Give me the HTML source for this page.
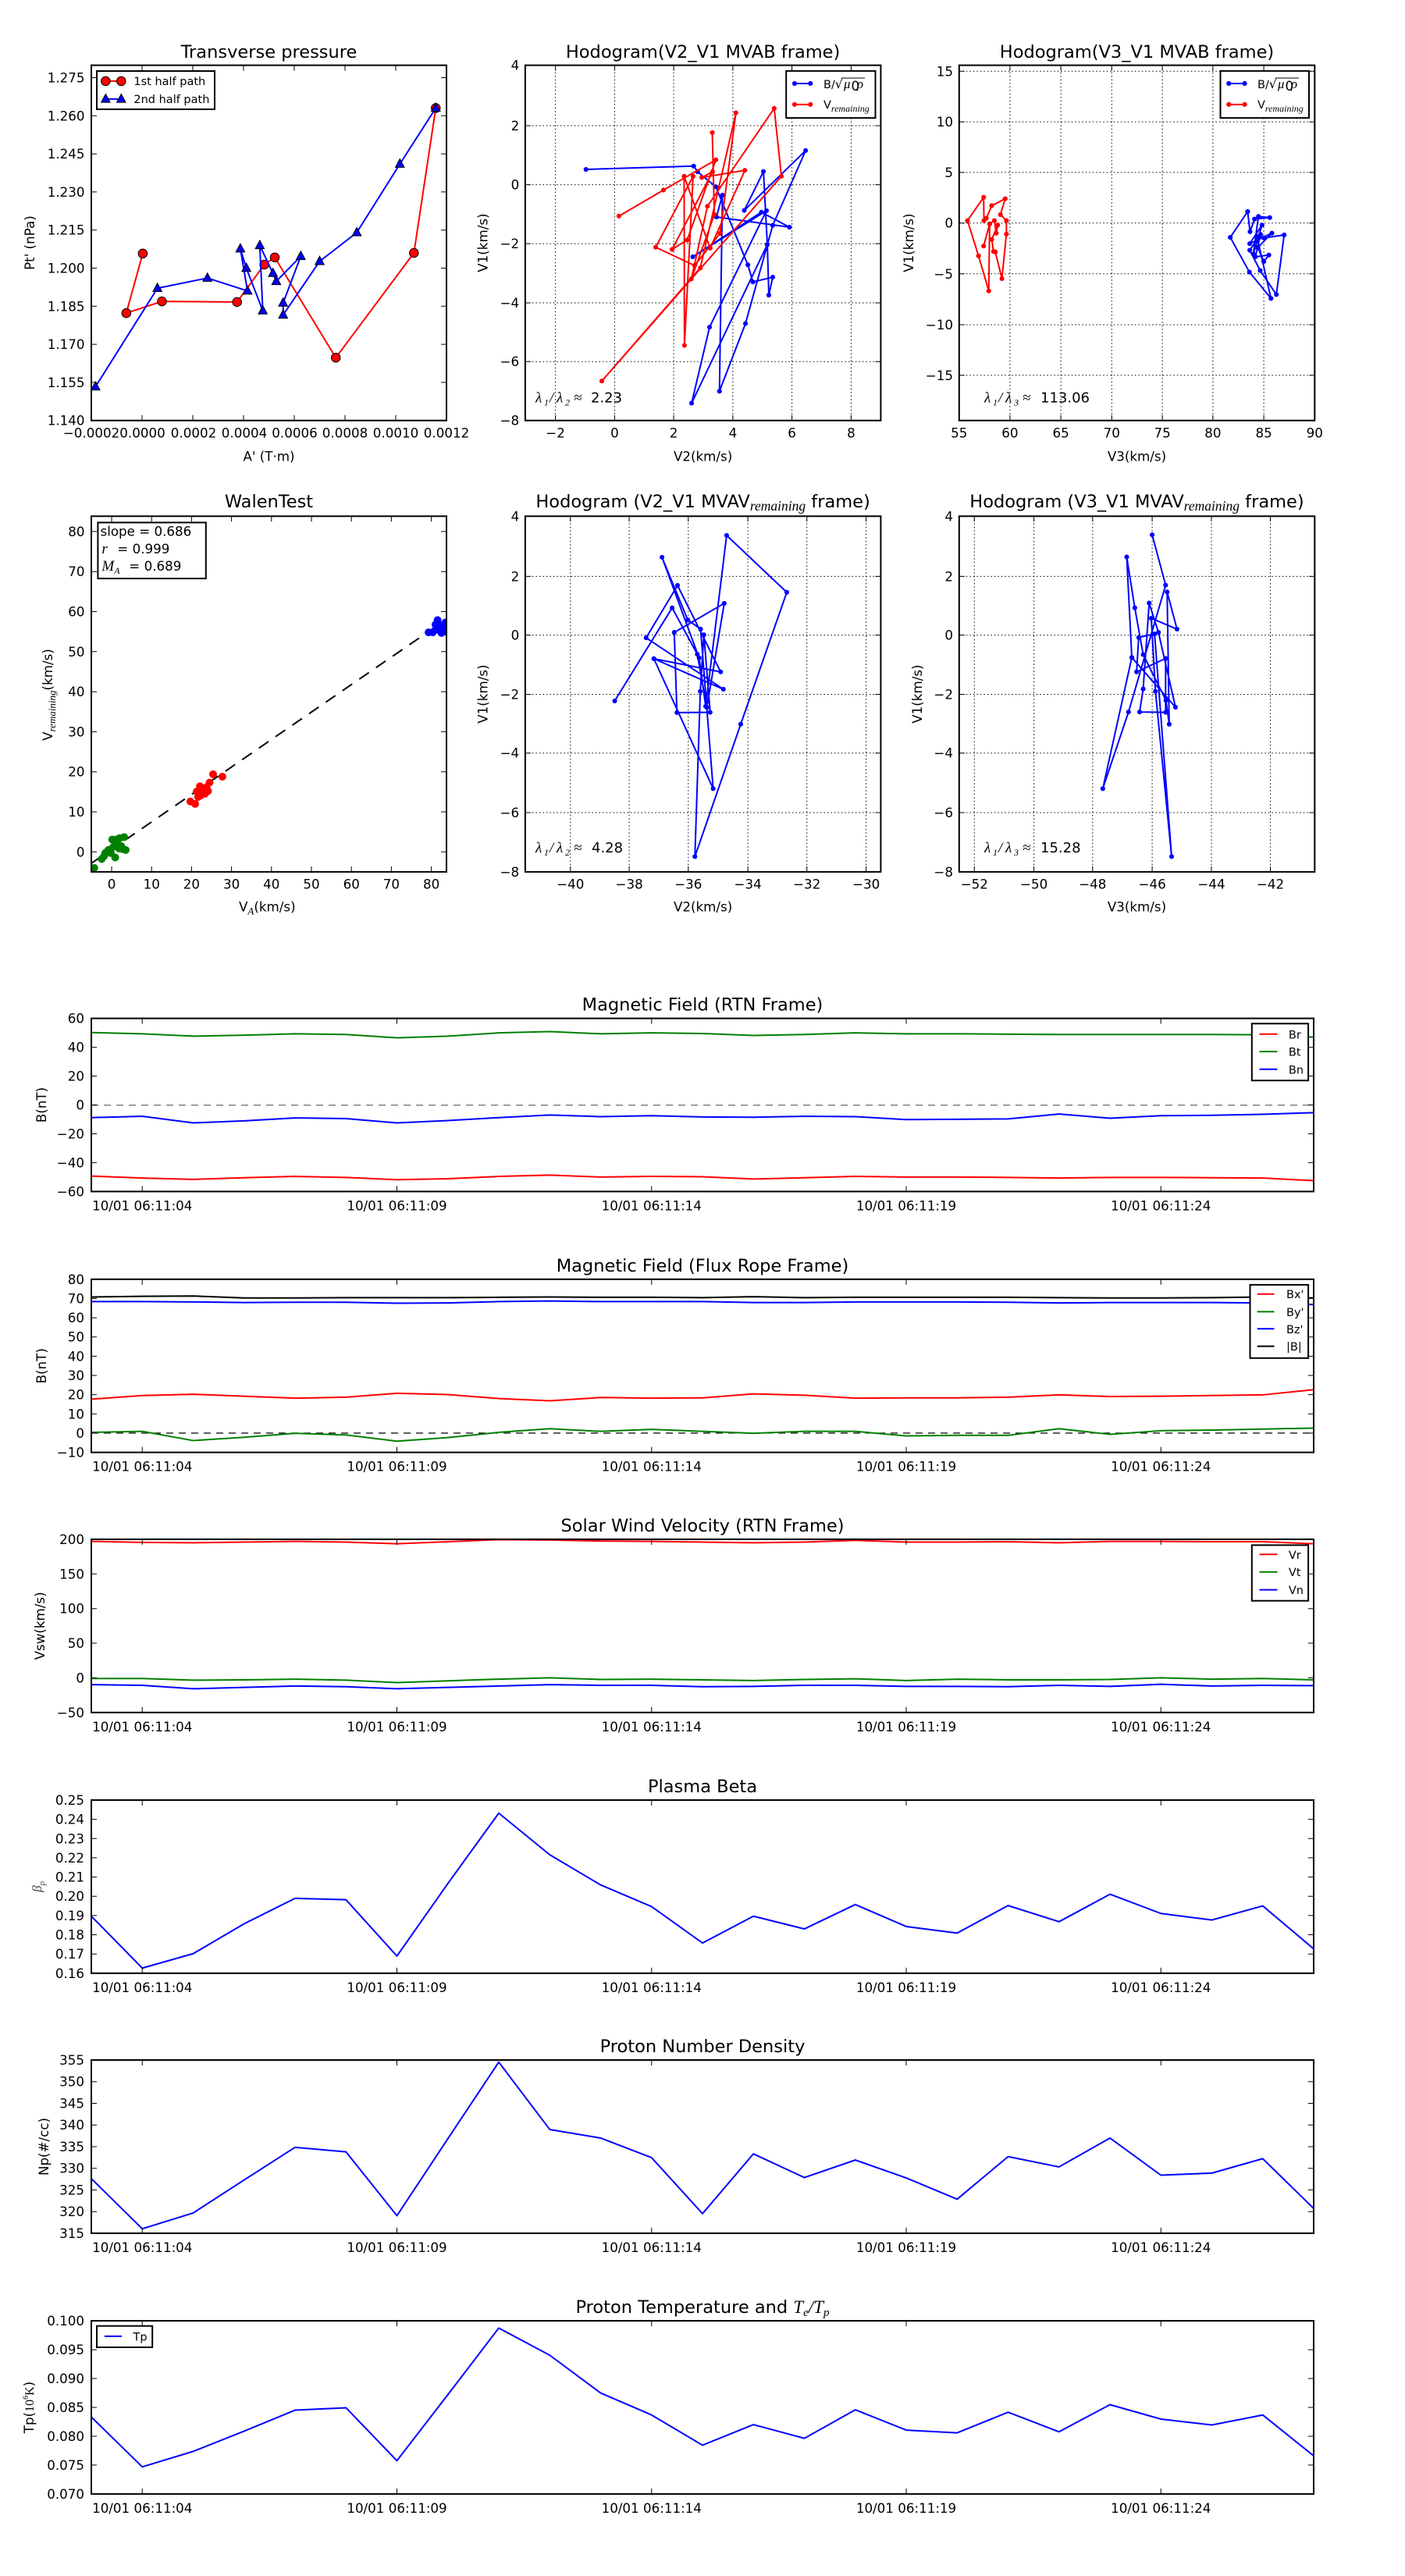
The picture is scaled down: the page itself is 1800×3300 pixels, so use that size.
<!DOCTYPE html>
<html><head><meta charset="utf-8">
<style>
html,body{margin:0;padding:0;background:#fff}
svg{display:block}
text{font-family:"DejaVu Sans","Liberation Sans",sans-serif;font-size:16.7px;fill:#000}
.ttl{font-size:22.5px;text-anchor:middle}
.yt{text-anchor:end}
.xt{text-anchor:middle}
.m{font-family:"Liberation Serif","DejaVu Serif",serif;font-style:italic}
.ax{fill:none;stroke:#000;stroke-width:2}
.tk{fill:none;stroke:#000;stroke-width:1}
.gr{fill:none;stroke:#000;stroke-width:1;stroke-dasharray:1.5 3}
.ln{fill:none;stroke-width:2;vector-effect:non-scaling-stroke;stroke-linejoin:round}
.lg{fill:#fff;stroke:#000;stroke-width:2}
.lt{font-size:14.5px}
</style></head><body>
<svg width="1800" height="3300" viewBox="0 0 1800 3300" xmlns="http://www.w3.org/2000/svg">
<rect width="1800" height="3300" fill="#fff"/>
<defs>
<marker id="dB" markerUnits="userSpaceOnUse" overflow="visible" refX="0" refY="0" markerWidth="1" markerHeight="1"><circle r="8" fill="#00f"/></marker>
<marker id="dR" markerUnits="userSpaceOnUse" overflow="visible" refX="0" refY="0" markerWidth="1" markerHeight="1"><circle r="8" fill="#f00"/></marker>
<marker id="sB" markerUnits="userSpaceOnUse" overflow="visible" refX="0" refY="0" markerWidth="1" markerHeight="1"><circle r="13" fill="#00f"/></marker>
<marker id="sR" markerUnits="userSpaceOnUse" overflow="visible" refX="0" refY="0" markerWidth="1" markerHeight="1"><circle r="13" fill="#f00"/></marker>
<marker id="sG" markerUnits="userSpaceOnUse" overflow="visible" refX="0" refY="0" markerWidth="1" markerHeight="1"><circle r="13" fill="#008000"/></marker>
<marker id="cR" markerUnits="userSpaceOnUse" overflow="visible" refX="0" refY="0" markerWidth="1" markerHeight="1"><circle r="15" fill="#f00" stroke="#000" stroke-width="2.6"/></marker>
<marker id="tB" markerUnits="userSpaceOnUse" overflow="visible" refX="0" refY="0" markerWidth="1" markerHeight="1"><path d="M0,-17L15,11L-15,11Z" fill="#00f" stroke="#000" stroke-width="2.6"/></marker>
<clipPath id="cw"><rect x="117" y="661.3" width="455" height="455.6"/></clipPath>
<clipPath id="c1"><rect x="117" y="1304.6" width="1566" height="221.8"/></clipPath>
<clipPath id="c2"><rect x="117" y="1638.8" width="1566" height="221.8"/></clipPath>
<clipPath id="c3"><rect x="117" y="1971.9" width="1566" height="221.9"/></clipPath>
<clipPath id="c4"><rect x="117" y="2306" width="1566" height="221.8"/></clipPath>
<clipPath id="c5"><rect x="117" y="2639" width="1566" height="221.9"/></clipPath>
<clipPath id="c6"><rect x="117" y="2973.1" width="1566" height="221.8"/></clipPath>
</defs>

<!-- ============ Panel A: Transverse pressure ============ -->
<text class="ttl" x="344.5" y="74">Transverse pressure</text>
<g transform="scale(0.38344)">
<polyline class="ln" stroke="#f00" points="477,847 422,1046 541,1007 792,1009 883,884 918,860 1122,1195 1383,845 1456,361" marker-start="url(#cR)" marker-mid="url(#cR)" marker-end="url(#cR)"/>
<polyline class="ln" stroke="#00f" points="319,1292 526,963 693,929 827,972 803,831 823,896 878,1038 868,820 912,913 923,940 1005,856 946,1012 946,1052 1068,873 1192,777 1336,548 1456,361" marker-start="url(#tB)" marker-mid="url(#tB)" marker-end="url(#tB)"/>
</g>
<rect class="ax" x="117" y="83.6" width="455" height="455.1"/>
<path class="tk" d="M182 538.7v-7M182 83.6v7M247 538.7v-7M247 83.6v7M312 538.7v-7M312 83.6v7M377 538.7v-7M377 83.6v7M442 538.7v-7M442 83.6v7M507 538.7v-7M507 83.6v7M117 489.9h7M572 489.9h-7M117 441.1h7M572 441.1h-7M117 392.3h7M572 392.3h-7M117 343.5h7M572 343.5h-7M117 294.7h7M572 294.7h-7M117 245.9h7M572 245.9h-7M117 197.1h7M572 197.1h-7M117 148.3h7M572 148.3h-7M117 99.5h7M572 99.5h-7"/>
<text class="yt" x="108.5" y="544.7">1.140</text>
<text class="yt" x="108.5" y="495.9">1.155</text>
<text class="yt" x="108.5" y="447.1">1.170</text>
<text class="yt" x="108.5" y="398.3">1.185</text>
<text class="yt" x="108.5" y="349.5">1.200</text>
<text class="yt" x="108.5" y="300.7">1.215</text>
<text class="yt" x="108.5" y="251.9">1.230</text>
<text class="yt" x="108.5" y="203.1">1.245</text>
<text class="yt" x="108.5" y="154.3">1.260</text>
<text class="yt" x="108.5" y="105.5">1.275</text>
<text class="xt" x="117" y="560.6">−0.0002</text>
<text class="xt" x="182.5" y="560.6">0.0000</text>
<text class="xt" x="248" y="560.6">0.0002</text>
<text class="xt" x="313" y="560.6">0.0004</text>
<text class="xt" x="377.5" y="560.6">0.0006</text>
<text class="xt" x="442" y="560.6">0.0008</text>
<text class="xt" x="507" y="560.6">0.0010</text>
<text class="xt" x="572" y="560.6">0.0012</text>
<text class="xt" x="344.5" y="590.5">A' (T·m)</text>
<text transform="translate(44,311.1) rotate(-90)" text-anchor="middle">Pt' (nPa)</text>
<rect class="lg" x="124" y="91" width="151" height="49"/>
<g transform="scale(0.38344)">
<polyline class="ln" stroke="#f00" points="353,271 405,271" marker-start="url(#cR)" marker-end="url(#cR)"/>
<polyline class="ln" stroke="#00f" points="353,331 405,331" marker-start="url(#tB)" marker-end="url(#tB)"/>
</g>
<text class="lt" x="171.4" y="109">1st half path</text>
<text class="lt" x="171.4" y="132">2nd half path</text>

<!-- ============ Panel B: Hodogram V2_V1 MVAB ============ -->
<text class="ttl" x="900.6" y="74">Hodogram(V2_V1 MVAB frame)</text>
<path class="gr" d="M711.6 83.6V538.7M787.4 83.6V538.7M863.1 83.6V538.7M938.9 83.6V538.7M1014.6 83.6V538.7M1090.4 83.6V538.7M672.9 161H1128.4M672.9 236.6H1128.4M672.9 312.1H1128.4M672.9 388H1128.4M672.9 463.2H1128.4"/>
<g transform="translate(600,0) scale(0.38344)">
<polyline class="ln" stroke="#00f" points="393,566 753,555 766,574 827,624 934,885 951,942 1017,926 1004,986 999,817 986,573 922,703 1127,503 1017,753 926,1081 839,1307 849,652 829,725 1073,759 979,709 750,858 996,704 806,1093 746,1347 999,817" marker-start="url(#dB)" marker-mid="url(#dB)" marker-end="url(#dB)"/>
<polyline class="ln" stroke="#f00" points="503,722 652,635 827,534 731,802 681,833 816,574 780,593 924,569 808,829 721,589 722,1154 751,589 626,826 756,887 841,780 894,377 775,895 446,1273 1046,589 1022,362 799,689 745,932 822,717 815,443" marker-start="url(#dR)" marker-mid="url(#dR)" marker-end="url(#dR)"/>
</g>
<rect class="ax" x="672.9" y="83.6" width="455.5" height="455.1"/>
<path class="tk" d="M711.6 538.7v-7M711.6 83.6v7M787.4 538.7v-7M787.4 83.6v7M863.1 538.7v-7M863.1 83.6v7M938.9 538.7v-7M938.9 83.6v7M1014.6 538.7v-7M1014.6 83.6v7M1090.4 538.7v-7M1090.4 83.6v7M672.9 161h7M1128.4 161h-7M672.9 236.6h7M1128.4 236.6h-7M672.9 312.1h7M1128.4 312.1h-7M672.9 388h7M1128.4 388h-7M672.9 463.2h7M1128.4 463.2h-7"/>
<text class="yt" x="665.2" y="89.6">4</text>
<text class="yt" x="665.2" y="167">2</text>
<text class="yt" x="665.2" y="242.6">0</text>
<text class="yt" x="665.2" y="318.1">−2</text>
<text class="yt" x="665.2" y="394">−4</text>
<text class="yt" x="665.2" y="469.2">−6</text>
<text class="yt" x="665.2" y="544.7">−8</text>
<text class="xt" x="711.6" y="560.6">−2</text>
<text class="xt" x="787.4" y="560.6">0</text>
<text class="xt" x="863.1" y="560.6">2</text>
<text class="xt" x="938.9" y="560.6">4</text>
<text class="xt" x="1014.6" y="560.6">6</text>
<text class="xt" x="1090.4" y="560.6">8</text>
<text class="xt" x="900.6" y="590.5">V2(km/s)</text>
<text transform="translate(624.5,311.1) rotate(-90)" text-anchor="middle">V1(km/s)</text>
<text y="515.7"><tspan class="m" x="686" font-size="19">λ</tspan><tspan class="m" x="697" dy="4" font-size="12" font-style="normal">1</tspan><tspan class="m" x="704" dy="-4" font-size="19">/</tspan><tspan class="m" x="713" font-size="19">λ</tspan><tspan class="m" x="724" dy="4" font-size="12" font-style="normal">2</tspan><tspan class="m" x="735" dy="-4" font-size="19" font-style="normal">≈</tspan><tspan x="757" font-size="18">2.23</tspan></text>
<rect class="lg" x="1007.2" y="90.9" width="114.3" height="60.2"/>
<g transform="translate(600,0) scale(0.38344)">
<polyline class="ln" stroke="#00f" points="1090,279 1143,279" marker-start="url(#dB)" marker-end="url(#dB)"/>
<polyline class="ln" stroke="#f00" points="1090,349 1143,349" marker-start="url(#dR)" marker-end="url(#dR)"/>
</g>
<text class="lt" x="1055" y="113">B/</text>
<text x="1069.5" y="113" font-family="Liberation Serif" font-size="17">√</text>
<line x1="1078" y1="100" x2="1108" y2="100" stroke="#000" stroke-width="0.9"/>
<text class="m" x="1081" y="113" font-size="15">μ</text>
<text x="1090.5" y="116" font-family="Liberation Serif" font-size="10">0</text>
<text class="m" x="1098" y="113" font-size="15">ρ</text>
<text class="lt" x="1055" y="139">V<tspan class="m" font-size="12" dy="4">remaining</tspan></text>

<!-- ============ Panel C: Hodogram V3_V1 MVAB ============ -->
<text class="ttl" x="1456.5" y="74">Hodogram(V3_V1 MVAB frame)</text>
<path class="gr" d="M1293.9 83.6V538.7M1359.1 83.6V538.7M1424.3 83.6V538.7M1489.1 83.6V538.7M1553.9 83.6V538.7M1619.1 83.6V538.7M1228.8 91.3H1684.3M1228.8 156.1H1684.3M1228.8 220.9H1684.3M1228.8 285.7H1684.3M1228.8 350.8H1684.3M1228.8 416H1684.3M1228.8 480.8H1684.3"/>
<g transform="translate(1200,0) scale(0.38344)">
<polyline class="ln" stroke="#f00" points="157,822 177,748 193,737 199,779 204,752 184,800 190,840 196,842 218,931 233,782 233,737 213,717 229,664 184,687 166,729 158,737 157,659 103,737 140,855 174,972 177,748" marker-start="url(#dR)" marker-mid="url(#dR)" marker-end="url(#dR)"/>
<polyline class="ln" stroke="#00f" points="1039,707 1047,774 1062,732 1113,727 1075,723 1058,849 1087,752 1046,814 1120,779 1073,827 1093,874 1110,852 1065,858 1082,783 1046,836 1081,904 1135,984 1161,785 1093,795 1070,790 1117,997 1045,909 981,793 1039,707" marker-start="url(#dB)" marker-mid="url(#dB)" marker-end="url(#dB)"/>
</g>
<rect class="ax" x="1228.8" y="83.6" width="455.5" height="455.1"/>
<path class="tk" d="M1293.9 538.7v-7M1293.9 83.6v7M1359.1 538.7v-7M1359.1 83.6v7M1424.3 538.7v-7M1424.3 83.6v7M1489.1 538.7v-7M1489.1 83.6v7M1553.9 538.7v-7M1553.9 83.6v7M1619.1 538.7v-7M1619.1 83.6v7M1228.8 91.3h7M1684.3 91.3h-7M1228.8 156.1h7M1684.3 156.1h-7M1228.8 220.9h7M1684.3 220.9h-7M1228.8 285.7h7M1684.3 285.7h-7M1228.8 350.8h7M1684.3 350.8h-7M1228.8 416h7M1684.3 416h-7M1228.8 480.8h7M1684.3 480.8h-7"/>
<text class="yt" x="1221" y="97.3">15</text>
<text class="yt" x="1221" y="162.1">10</text>
<text class="yt" x="1221" y="226.9">5</text>
<text class="yt" x="1221" y="291.7">0</text>
<text class="yt" x="1221" y="356.8">−5</text>
<text class="yt" x="1221" y="422">−10</text>
<text class="yt" x="1221" y="486.8">−15</text>
<text class="xt" x="1228.8" y="560.6">55</text>
<text class="xt" x="1293.9" y="560.6">60</text>
<text class="xt" x="1359.1" y="560.6">65</text>
<text class="xt" x="1424.3" y="560.6">70</text>
<text class="xt" x="1489.1" y="560.6">75</text>
<text class="xt" x="1553.9" y="560.6">80</text>
<text class="xt" x="1619.1" y="560.6">85</text>
<text class="xt" x="1684.3" y="560.6">90</text>
<text class="xt" x="1456.5" y="590.5">V3(km/s)</text>
<text transform="translate(1170,311.1) rotate(-90)" text-anchor="middle">V1(km/s)</text>
<text y="515.7"><tspan class="m" x="1261" font-size="19">λ</tspan><tspan class="m" x="1272" dy="4" font-size="12" font-style="normal">1</tspan><tspan class="m" x="1279" dy="-4" font-size="19">/</tspan><tspan class="m" x="1288" font-size="19">λ</tspan><tspan class="m" x="1299" dy="4" font-size="12" font-style="normal">3</tspan><tspan class="m" x="1310" dy="-4" font-size="19" font-style="normal">≈</tspan><tspan x="1333" font-size="18">113.06</tspan></text>
<rect class="lg" x="1563.5" y="90.9" width="113.5" height="60.2"/>
<g transform="translate(1200,0) scale(0.38344)">
<polyline class="ln" stroke="#00f" points="976,279 1029,279" marker-start="url(#dB)" marker-end="url(#dB)"/>
<polyline class="ln" stroke="#f00" points="976,349 1029,349" marker-start="url(#dR)" marker-end="url(#dR)"/>
</g>
<text class="lt" x="1611" y="113">B/</text>
<text x="1625.5" y="113" font-family="Liberation Serif" font-size="17">√</text>
<line x1="1634" y1="100" x2="1664" y2="100" stroke="#000" stroke-width="0.9"/>
<text class="m" x="1637" y="113" font-size="15">μ</text>
<text x="1646.5" y="116" font-family="Liberation Serif" font-size="10">0</text>
<text class="m" x="1654" y="113" font-size="15">ρ</text>
<text class="lt" x="1611" y="139">V<tspan class="m" font-size="12" dy="4">remaining</tspan></text>

<!-- ============ Panel D: WalenTest ============ -->
<text class="ttl" x="344.5" y="649.8">WalenTest</text>
<g clip-path="url(#cw)">
<line x1="117.4" y1="1105.7" x2="562.8" y2="799.6" stroke="#000" stroke-width="2" stroke-dasharray="15 11"/>
<g transform="translate(0,600) scale(0.38344)">
<polyline fill="none" stroke="none" points="315,1335 340,1305 352,1285 362,1275 375,1240 378,1265 385,1300 392,1252 400,1235 405,1262 410,1272 415,1232 420,1275 348,1295 370,1285 388,1240 398,1270" marker-start="url(#sG)" marker-mid="url(#sG)" marker-end="url(#sG)"/>
<polyline fill="none" stroke="none" points="636,1113 652,1121 657,1080 668,1062 672,1092 685,1087 690,1065 700,1050 712,1022 743,1030 662,1098 680,1075 695,1078 675,1070" marker-start="url(#sR)" marker-mid="url(#sR)" marker-end="url(#sR)"/>
<polyline fill="none" stroke="none" points="1432,548 1446,548 1455,522 1462,507 1470,525 1475,550 1482,530 1488,515 1490,545 1466,540 1458,533" marker-start="url(#sB)" marker-mid="url(#sB)" marker-end="url(#sB)"/>
</g>
</g>
<rect class="ax" x="117" y="661.3" width="455" height="455.6"/>
<path class="tk" d="M143 1116.9v-7M143 661.3v7M194.2 1116.9v-7M194.2 661.3v7M245.4 1116.9v-7M245.4 661.3v7M296.6 1116.9v-7M296.6 661.3v7M347.8 1116.9v-7M347.8 661.3v7M399 1116.9v-7M399 661.3v7M450.2 1116.9v-7M450.2 661.3v7M501.4 1116.9v-7M501.4 661.3v7M552.6 1116.9v-7M552.6 661.3v7M117 680.9h7M572 680.9h-7M117 732.2h7M572 732.2h-7M117 783.5h7M572 783.5h-7M117 834.8h7M572 834.8h-7M117 886.1h7M572 886.1h-7M117 937.4h7M572 937.4h-7M117 988.7h7M572 988.7h-7M117 1040h7M572 1040h-7M117 1091.3h7M572 1091.3h-7"/>
<text class="yt" x="108.5" y="686.9">80</text>
<text class="yt" x="108.5" y="738.2">70</text>
<text class="yt" x="108.5" y="789.5">60</text>
<text class="yt" x="108.5" y="840.8">50</text>
<text class="yt" x="108.5" y="892.1">40</text>
<text class="yt" x="108.5" y="943.4">30</text>
<text class="yt" x="108.5" y="994.7">20</text>
<text class="yt" x="108.5" y="1046">10</text>
<text class="yt" x="108.5" y="1097.3">0</text>
<text class="xt" x="143" y="1138.7">0</text>
<text class="xt" x="194.2" y="1138.7">10</text>
<text class="xt" x="245.4" y="1138.7">20</text>
<text class="xt" x="296.6" y="1138.7">30</text>
<text class="xt" x="347.8" y="1138.7">40</text>
<text class="xt" x="399" y="1138.7">50</text>
<text class="xt" x="450.2" y="1138.7">60</text>
<text class="xt" x="501.4" y="1138.7">70</text>
<text class="xt" x="552.6" y="1138.7">80</text>
<text x="306" y="1167.5">V<tspan class="m" font-size="13" dy="4">A</tspan><tspan dy="-4">(km/s)</tspan></text>
<text transform="translate(67,890) rotate(-90)" text-anchor="middle">V<tspan class="m" font-size="13" dy="4">remaining</tspan><tspan dy="-4">(km/s)</tspan></text>
<rect class="lg" x="125.4" y="669.4" width="138.4" height="71.7"/>
<text x="128.5" y="686.7" font-size="18.6">slope = 0.686</text>
<text x="130.4" y="708.9" font-size="18.6"><tspan class="m" font-size="19">r</tspan><tspan x="145"> = 0.999</tspan></text>
<text x="130.4" y="731.1" font-size="18.6"><tspan class="m" font-size="19">M</tspan><tspan class="m" font-size="12" dy="4">A</tspan><tspan x="160" dy="-4"> = 0.689</tspan></text>

<!-- ============ Panel E: Hodogram V2_V1 MVAV ============ -->
<text class="ttl" x="900.6" y="649.8">Hodogram (V2_V1 MVAV<tspan class="m" font-size="17.5" dy="4">remaining</tspan><tspan dy="-4"> frame)</tspan></text>
<path class="gr" d="M730.8 661.3V1116.9M806.1 661.3V1116.9M881.8 661.3V1116.9M958.1 661.3V1116.9M1033.7 661.3V1116.9M1109.6 661.3V1116.9M672.9 738.4H1128.4M672.9 813.6H1128.4M672.9 889.5H1128.4M672.9 964.7H1128.4M672.9 1041H1128.4"/>
<g transform="translate(600,600) scale(0.38344)">
<polyline class="ln" stroke="#00f" points="489,777 681,466 765,621 797,799 855,451 688,548 697,816 808,815 787,556 775,745 757,1297 910,855 1064,414 863,224 793,795 771,633 647,297 733,506 776,537 818,1070 620,636 852,738 594,566 699,391 843,680 620,636" marker-start="url(#dB)" marker-mid="url(#dB)" marker-end="url(#dB)"/>
</g>
<rect class="ax" x="672.9" y="661.3" width="455.5" height="455.6"/>
<path class="tk" d="M730.8 1116.9v-7M730.8 661.3v7M806.1 1116.9v-7M806.1 661.3v7M881.8 1116.9v-7M881.8 661.3v7M958.1 1116.9v-7M958.1 661.3v7M1033.7 1116.9v-7M1033.7 661.3v7M1109.6 1116.9v-7M1109.6 661.3v7M672.9 738.4h7M1128.4 738.4h-7M672.9 813.6h7M1128.4 813.6h-7M672.9 889.5h7M1128.4 889.5h-7M672.9 964.7h7M1128.4 964.7h-7M672.9 1041h7M1128.4 1041h-7"/>
<text class="yt" x="665.2" y="667.3">4</text>
<text class="yt" x="665.2" y="744.4">2</text>
<text class="yt" x="665.2" y="819.6">0</text>
<text class="yt" x="665.2" y="895.5">−2</text>
<text class="yt" x="665.2" y="970.7">−4</text>
<text class="yt" x="665.2" y="1047">−6</text>
<text class="yt" x="665.2" y="1122.9">−8</text>
<text class="xt" x="730.8" y="1138.7">−40</text>
<text class="xt" x="806.1" y="1138.7">−38</text>
<text class="xt" x="881.8" y="1138.7">−36</text>
<text class="xt" x="958.1" y="1138.7">−34</text>
<text class="xt" x="1033.7" y="1138.7">−32</text>
<text class="xt" x="1109.6" y="1138.7">−30</text>
<text class="xt" x="900.6" y="1167.5">V2(km/s)</text>
<text transform="translate(624.5,889.1) rotate(-90)" text-anchor="middle">V1(km/s)</text>
<text y="1092"><tspan class="m" x="686" font-size="19">λ</tspan><tspan class="m" x="697" dy="4" font-size="12" font-style="normal">1</tspan><tspan class="m" x="704" dy="-4" font-size="19">/</tspan><tspan class="m" x="713" font-size="19">λ</tspan><tspan class="m" x="724" dy="4" font-size="12" font-style="normal">2</tspan><tspan class="m" x="735" dy="-4" font-size="19" font-style="normal">≈</tspan><tspan x="758" font-size="18">4.28</tspan></text>

<!-- ============ Panel F: Hodogram V3_V1 MVAV ============ -->
<text class="ttl" x="1456.5" y="649.8">Hodogram (V3_V1 MVAV<tspan class="m" font-size="17.5" dy="4">remaining</tspan><tspan dy="-4"> frame)</tspan></text>
<path class="gr" d="M1248.3 661.3V1116.9M1324.6 661.3V1116.9M1399.8 661.3V1116.9M1476.1 661.3V1116.9M1552 661.3V1116.9M1627.5 661.3V1116.9M1228.8 738.4H1684.3M1228.8 813.6H1684.3M1228.8 889.5H1684.3M1228.8 964.7H1684.3M1228.8 1041H1684.3"/>
<g transform="translate(1200,600) scale(0.38344)">
<polyline class="ln" stroke="#00f" points="720,222 765,390 641,814 555,1070 652,632 798,798 741,548 710,450 690,737 678,814 765,815 765,635 668,680 675,565 728,553 785,1297 731,745 717,501 803,537 770,413 777,855 766,775 690,622 662,466 635,296 652,632" marker-start="url(#dB)" marker-mid="url(#dB)" marker-end="url(#dB)"/>
</g>
<rect class="ax" x="1228.8" y="661.3" width="455.5" height="455.6"/>
<path class="tk" d="M1248.3 1116.9v-7M1248.3 661.3v7M1324.6 1116.9v-7M1324.6 661.3v7M1399.8 1116.9v-7M1399.8 661.3v7M1476.1 1116.9v-7M1476.1 661.3v7M1552 1116.9v-7M1552 661.3v7M1627.5 1116.9v-7M1627.5 661.3v7M1228.8 738.4h7M1684.3 738.4h-7M1228.8 813.6h7M1684.3 813.6h-7M1228.8 889.5h7M1684.3 889.5h-7M1228.8 964.7h7M1684.3 964.7h-7M1228.8 1041h7M1684.3 1041h-7"/>
<text class="yt" x="1221" y="667.3">4</text>
<text class="yt" x="1221" y="744.4">2</text>
<text class="yt" x="1221" y="819.6">0</text>
<text class="yt" x="1221" y="895.5">−2</text>
<text class="yt" x="1221" y="970.7">−4</text>
<text class="yt" x="1221" y="1047">−6</text>
<text class="yt" x="1221" y="1122.9">−8</text>
<text class="xt" x="1248.3" y="1138.7">−52</text>
<text class="xt" x="1324.6" y="1138.7">−50</text>
<text class="xt" x="1399.8" y="1138.7">−48</text>
<text class="xt" x="1476.1" y="1138.7">−46</text>
<text class="xt" x="1552" y="1138.7">−44</text>
<text class="xt" x="1627.5" y="1138.7">−42</text>
<text class="xt" x="1456.5" y="1167.5">V3(km/s)</text>
<text transform="translate(1181,889.1) rotate(-90)" text-anchor="middle">V1(km/s)</text>
<text y="1092"><tspan class="m" x="1261" font-size="19">λ</tspan><tspan class="m" x="1272" dy="4" font-size="12" font-style="normal">1</tspan><tspan class="m" x="1279" dy="-4" font-size="19">/</tspan><tspan class="m" x="1288" font-size="19">λ</tspan><tspan class="m" x="1299" dy="4" font-size="12" font-style="normal">3</tspan><tspan class="m" x="1310" dy="-4" font-size="19" font-style="normal">≈</tspan><tspan x="1333" font-size="18">15.28</tspan></text>

<!-- ============ Time series shared x ticks ============ -->
<defs>
<path id="xtk" d="M182.25 0v7M182.25 221.8v-7M508.5 0v7M508.5 221.8v-7M834.75 0v7M834.75 221.8v-7M1161 0v7M1161 221.8v-7M1487.25 0v7M1487.25 221.8v-7" fill="none" stroke="#000" stroke-width="1"/>
</defs>

<!-- ============ TS1: Magnetic Field RTN ============ -->
<text class="ttl" x="900" y="1294.6">Magnetic Field (RTN Frame)</text>
<line x1="117" y1="1415.8" x2="1683" y2="1415.8" stroke="#555" stroke-width="1.2" stroke-dasharray="9 7"/>
<g clip-path="url(#c1)"><g transform="translate(117,1260) scale(65.25,0.420875)">
<polyline class="ln" stroke="#f00" points="0,586 1,592 2,596 3,591 4,587 5,590 6,597 7,594 8,587 9,583 10,589 11,587 12,588 13,595 14,591 15,587 16,589 17,589 18,590 19,592 20,590 21,590 22,591 23,592 24,600"/>
<polyline class="ln" stroke="#008000" points="0,149 1,153 2,160 3,157 4,153 5,155 6,165 7,160 8,150 9,146 10,153 11,150 12,152 13,158 14,155 15,150 16,153 17,153 18,154 19,155 20,155 21,155 22,155 23,156 24,163"/>
<polyline class="ln" stroke="#00f" points="0,408 1,404 2,424 3,418 4,409 5,411 6,424 7,417 8,408 9,400 10,405 11,402 12,406 13,407 14,404 15,405 16,414 17,413 18,412 19,397 20,410 21,402 22,401 23,398 24,393"/>
</g></g>
<rect class="ax" x="117" y="1304.6" width="1566" height="221.8"/>
<use href="#xtk" y="1304.6"/>
<path class="tk" d="M117 1341.6h7M1683 1341.6h-7M117 1378.5h7M1683 1378.5h-7M117 1415.5h7M1683 1415.5h-7M117 1452.5h7M1683 1452.5h-7M117 1489.4h7M1683 1489.4h-7"/>
<text class="yt" x="108" y="1310.6">60</text>
<text class="yt" x="108" y="1347.6">40</text>
<text class="yt" x="108" y="1384.5">20</text>
<text class="yt" x="108" y="1421.5">0</text>
<text class="yt" x="108" y="1458.5">−20</text>
<text class="yt" x="108" y="1495.4">−40</text>
<text class="yt" x="108" y="1532.4">−60</text>
<text class="xt" x="182.25" y="1550.4">10/01 06:11:04</text>
<text class="xt" x="508.5" y="1550.4">10/01 06:11:09</text>
<text class="xt" x="834.75" y="1550.4">10/01 06:11:14</text>
<text class="xt" x="1161" y="1550.4">10/01 06:11:19</text>
<text class="xt" x="1487.25" y="1550.4">10/01 06:11:24</text>
<text transform="translate(59,1415.5) rotate(-90)" text-anchor="middle">B(nT)</text>
<rect class="lg" x="1603.8" y="1311.3" width="72.3" height="72.9"/>
<path d="M1613.5 1324.8H1636.5" stroke="#f00" stroke-width="2"/>
<path d="M1613.5 1347.1H1636.5" stroke="#008000" stroke-width="2"/>
<path d="M1613.5 1369.8H1636.5" stroke="#00f" stroke-width="2"/>
<text class="lt" x="1650.9" y="1330.3">Br</text>
<text class="lt" x="1650.9" y="1352.6">Bt</text>
<text class="lt" x="1650.9" y="1375.3">Bn</text>

<!-- ============ TS2: Magnetic Field Flux Rope ============ -->
<text class="ttl" x="900" y="1628.8">Magnetic Field (Flux Rope Frame)</text>
<line x1="117" y1="1835.9" x2="1683" y2="1835.9" stroke="#000" stroke-width="1.2" stroke-dasharray="9 7"/>
<g clip-path="url(#c2)"><g transform="translate(117,1260) scale(65.25,0.420875)">
<polyline class="ln" stroke="#f00" points="0,1265 1,1254 2,1250 3,1256 4,1262 5,1259 6,1247 7,1251 8,1263 9,1270 10,1260 11,1262 12,1261 13,1249 14,1253 15,1262 16,1261 17,1261 18,1259 19,1252 20,1257 21,1256 22,1254 23,1252 24,1236"/>
<polyline class="ln" stroke="#008000" points="0,1366 1,1363 2,1391 3,1381 4,1369 5,1374 6,1393 7,1382 8,1366 9,1355 10,1363 11,1357 12,1363 13,1369 14,1363 15,1363 16,1377 17,1375 18,1375 19,1355 20,1372 21,1361 22,1359 23,1356 24,1353"/>
<polyline class="ln" stroke="#00f" points="0,968 1,968 2,969 3,971 4,970 5,970 6,973 7,972 8,968 9,966 10,968 11,968 12,968 13,971 14,971 15,969 16,969 17,969 18,970 19,972 20,971 21,971 22,971 23,972 24,977"/>
<polyline class="ln" stroke="#000" points="0,954 1,952 2,951 3,957 4,957 5,956 6,956 7,956 8,955 9,954 10,955 11,955 12,956 13,953 14,956 15,955 16,955 17,955 18,955 19,956 20,957 21,957 22,956 23,954 24,957"/>
</g></g>
<rect class="ax" x="117" y="1638.8" width="1566" height="221.8"/>
<use href="#xtk" y="1638.8"/>
<path class="tk" d="M117 1663.4h7M1683 1663.4h-7M117 1688.1h7M1683 1688.1h-7M117 1712.7h7M1683 1712.7h-7M117 1737.4h7M1683 1737.4h-7M117 1762h7M1683 1762h-7M117 1786.6h7M1683 1786.6h-7M117 1811.3h7M1683 1811.3h-7M117 1835.9h7M1683 1835.9h-7"/>
<text class="yt" x="108" y="1644.8">80</text>
<text class="yt" x="108" y="1669.4">70</text>
<text class="yt" x="108" y="1694.1">60</text>
<text class="yt" x="108" y="1718.7">50</text>
<text class="yt" x="108" y="1743.4">40</text>
<text class="yt" x="108" y="1768">30</text>
<text class="yt" x="108" y="1792.6">20</text>
<text class="yt" x="108" y="1817.3">10</text>
<text class="yt" x="108" y="1841.9">0</text>
<text class="yt" x="108" y="1866.6">−10</text>
<text class="xt" x="182.25" y="1884.6">10/01 06:11:04</text>
<text class="xt" x="508.5" y="1884.6">10/01 06:11:09</text>
<text class="xt" x="834.75" y="1884.6">10/01 06:11:14</text>
<text class="xt" x="1161" y="1884.6">10/01 06:11:19</text>
<text class="xt" x="1487.25" y="1884.6">10/01 06:11:24</text>
<text transform="translate(59,1749.7) rotate(-90)" text-anchor="middle">B(nT)</text>
<rect class="lg" x="1601.5" y="1645.9" width="74.6" height="93.9"/>
<path d="M1610.7 1657.7H1632.5" stroke="#f00" stroke-width="2"/>
<path d="M1610.7 1680.4H1632.5" stroke="#008000" stroke-width="2"/>
<path d="M1610.7 1702.3H1632.5" stroke="#00f" stroke-width="2"/>
<path d="M1610.7 1724.6H1632.5" stroke="#000" stroke-width="2"/>
<text class="lt" x="1648" y="1663.2">Bx'</text>
<text class="lt" x="1648" y="1685.9">By'</text>
<text class="lt" x="1648" y="1707.8">Bz'</text>
<text class="lt" x="1648" y="1730.1">|B|</text>

<!-- ============ TS3: Solar Wind Velocity ============ -->
<text class="ttl" x="900" y="1961.9">Solar Wind Velocity (RTN Frame)</text>
<g clip-path="url(#c3)"><g transform="translate(117,1920) scale(65.25,0.440141)">
<polyline class="ln" stroke="#f00" points="0,124 1,127 2,128 3,126 4,124 5,126 6,131 7,125 8,119 9,120 10,123 11,124 12,126 13,128 14,126 15,121 16,126 17,126 18,125 19,128 20,124 21,124 22,125 23,125 24,131"/>
<polyline class="ln" stroke="#008000" points="0,523 1,523 2,528 3,527 4,525 5,528 6,535 7,530 8,525 9,521 10,526 11,525 12,527 13,529 14,526 15,524 16,529 17,525 18,527 19,527 20,526 21,521 22,525 23,523 24,527"/>
<polyline class="ln" stroke="#00f" points="0,541 1,543 2,553 3,549 4,545 5,547 6,553 7,549 8,545 9,541 10,543 11,543 12,547 13,546 14,543 15,543 16,546 17,546 18,547 19,543 20,546 21,540 22,545 23,543 24,544"/>
</g></g>
<rect class="ax" x="117" y="1971.9" width="1566" height="221.9"/>
<use href="#xtk" y="1971.9"/>
<path class="tk" d="M117 2016.3h7M1683 2016.3h-7M117 2060.7h7M1683 2060.7h-7M117 2105h7M1683 2105h-7M117 2149.4h7M1683 2149.4h-7"/>
<text class="yt" x="108" y="1977.9">200</text>
<text class="yt" x="108" y="2022.3">150</text>
<text class="yt" x="108" y="2066.7">100</text>
<text class="yt" x="108" y="2111">50</text>
<text class="yt" x="108" y="2155.4">0</text>
<text class="yt" x="108" y="2199.8">−50</text>
<text class="xt" x="182.25" y="2217.8">10/01 06:11:04</text>
<text class="xt" x="508.5" y="2217.8">10/01 06:11:09</text>
<text class="xt" x="834.75" y="2217.8">10/01 06:11:14</text>
<text class="xt" x="1161" y="2217.8">10/01 06:11:19</text>
<text class="xt" x="1487.25" y="2217.8">10/01 06:11:24</text>
<text transform="translate(57,2082.9) rotate(-90)" text-anchor="middle">Vsw(km/s)</text>
<rect class="lg" x="1603.8" y="1979.4" width="72.3" height="71.3"/>
<path d="M1613.5 1991.3H1636.5" stroke="#f00" stroke-width="2"/>
<path d="M1613.5 2013.7H1636.5" stroke="#008000" stroke-width="2"/>
<path d="M1613.5 2036.6H1636.5" stroke="#00f" stroke-width="2"/>
<text class="lt" x="1650.9" y="1996.8">Vr</text>
<text class="lt" x="1650.9" y="2019.2">Vt</text>
<text class="lt" x="1650.9" y="2042.1">Vn</text>

<!-- ============ TS4: Plasma Beta ============ -->
<text class="ttl" x="900" y="2296">Plasma Beta</text>
<g clip-path="url(#c4)"><g transform="translate(117,1920) scale(65.25,0.440141)">
<polyline class="ln" stroke="#00f" points="0,1215 1,1366 2,1324 3,1237 4,1163 5,1167 6,1331 7,1120 8,915 9,1036 10,1124 11,1187 12,1293 13,1215 14,1252 15,1181 16,1245 17,1264 18,1184 19,1231 20,1151 21,1207 22,1226 23,1185 24,1310"/>
</g></g>
<rect class="ax" x="117" y="2306" width="1566" height="221.8"/>
<use href="#xtk" y="2306"/>
<path class="tk" d="M117 2330.6h7M1683 2330.6h-7M117 2355.3h7M1683 2355.3h-7M117 2379.9h7M1683 2379.9h-7M117 2404.6h7M1683 2404.6h-7M117 2429.2h7M1683 2429.2h-7M117 2453.9h7M1683 2453.9h-7M117 2478.5h7M1683 2478.5h-7M117 2503.2h7M1683 2503.2h-7"/>
<text class="yt" x="108" y="2312">0.25</text>
<text class="yt" x="108" y="2336.6">0.24</text>
<text class="yt" x="108" y="2361.3">0.23</text>
<text class="yt" x="108" y="2385.9">0.22</text>
<text class="yt" x="108" y="2410.6">0.21</text>
<text class="yt" x="108" y="2435.2">0.20</text>
<text class="yt" x="108" y="2459.9">0.19</text>
<text class="yt" x="108" y="2484.5">0.18</text>
<text class="yt" x="108" y="2509.2">0.17</text>
<text class="yt" x="108" y="2533.8">0.16</text>
<text class="xt" x="182.25" y="2551.8">10/01 06:11:04</text>
<text class="xt" x="508.5" y="2551.8">10/01 06:11:09</text>
<text class="xt" x="834.75" y="2551.8">10/01 06:11:14</text>
<text class="xt" x="1161" y="2551.8">10/01 06:11:19</text>
<text class="xt" x="1487.25" y="2551.8">10/01 06:11:24</text>
<text transform="translate(53,2416.9) rotate(-90)" text-anchor="middle" style="fill:#444"><tspan class="m" font-size="17" style="fill:#444">β</tspan><tspan class="m" font-size="11" dy="4" style="fill:#444">p</tspan></text>

<!-- ============ TS5: Proton Number Density ============ -->
<text class="ttl" x="900" y="2629">Proton Number Density</text>
<g clip-path="url(#c5)"><g transform="translate(117,2610) scale(65.25,0.440141)">
<polyline class="ln" stroke="#00f" points="0,411 1,557 2,511 3,415 4,320 5,333 6,519 7,295 8,72 9,268 10,293 11,350 12,513 13,339 14,408 15,357 16,409 17,471 18,347 19,377 20,293 21,401 22,395 23,353 24,498"/>
</g></g>
<rect class="ax" x="117" y="2639" width="1566" height="221.9"/>
<use href="#xtk" y="2639"/>
<path class="tk" d="M117 2666.7h7M1683 2666.7h-7M117 2694.5h7M1683 2694.5h-7M117 2722.2h7M1683 2722.2h-7M117 2750h7M1683 2750h-7M117 2777.7h7M1683 2777.7h-7M117 2805.4h7M1683 2805.4h-7M117 2833.2h7M1683 2833.2h-7"/>
<text class="yt" x="108" y="2645">355</text>
<text class="yt" x="108" y="2672.7">350</text>
<text class="yt" x="108" y="2700.5">345</text>
<text class="yt" x="108" y="2728.2">340</text>
<text class="yt" x="108" y="2756">335</text>
<text class="yt" x="108" y="2783.7">330</text>
<text class="yt" x="108" y="2811.4">325</text>
<text class="yt" x="108" y="2839.2">320</text>
<text class="yt" x="108" y="2866.9">315</text>
<text class="xt" x="182.25" y="2884.9">10/01 06:11:04</text>
<text class="xt" x="508.5" y="2884.9">10/01 06:11:09</text>
<text class="xt" x="834.75" y="2884.9">10/01 06:11:14</text>
<text class="xt" x="1161" y="2884.9">10/01 06:11:19</text>
<text class="xt" x="1487.25" y="2884.9">10/01 06:11:24</text>
<text transform="translate(62,2750) rotate(-90)" text-anchor="middle">Np(#/cc)</text>

<!-- ============ TS6: Proton Temperature ============ -->
<text class="ttl" x="900" y="2963">Proton Temperature and <tspan class="m" font-size="23">T</tspan><tspan class="m" font-size="15" dy="4">e</tspan><tspan class="m" font-size="23" dy="-4">/T</tspan><tspan class="m" font-size="15" dy="4">p</tspan></text>
<g clip-path="url(#c6)"><g transform="translate(117,2610) scale(65.25,0.440141)">
<polyline class="ln" stroke="#00f" points="0,1105 1,1250 2,1205 3,1146 4,1085 5,1078 6,1232 7,1040 8,846 9,925 10,1035 11,1099 12,1187 13,1127 14,1167 15,1084 16,1143 17,1151 18,1091 19,1148 20,1069 21,1111 22,1128 23,1099 24,1218"/>
</g></g>
<rect class="ax" x="117" y="2973.1" width="1566" height="221.8"/>
<use href="#xtk" y="2973.1"/>
<path class="tk" d="M117 3010.1h7M1683 3010.1h-7M117 3047h7M1683 3047h-7M117 3084h7M1683 3084h-7M117 3121h7M1683 3121h-7M117 3157.9h7M1683 3157.9h-7"/>
<text class="yt" x="108" y="2979.1">0.100</text>
<text class="yt" x="108" y="3016.1">0.095</text>
<text class="yt" x="108" y="3053">0.090</text>
<text class="yt" x="108" y="3090">0.085</text>
<text class="yt" x="108" y="3127">0.080</text>
<text class="yt" x="108" y="3163.9">0.075</text>
<text class="yt" x="108" y="3200.9">0.070</text>
<text class="xt" x="182.25" y="3218.9">10/01 06:11:04</text>
<text class="xt" x="508.5" y="3218.9">10/01 06:11:09</text>
<text class="xt" x="834.75" y="3218.9">10/01 06:11:14</text>
<text class="xt" x="1161" y="3218.9">10/01 06:11:19</text>
<text class="xt" x="1487.25" y="3218.9">10/01 06:11:24</text>
<text transform="translate(43,3084) rotate(-90)" text-anchor="middle">Tp(<tspan font-family="Liberation Serif" font-size="16">10</tspan><tspan font-family="Liberation Serif" font-size="10" dy="-7">6</tspan><tspan font-family="Liberation Serif" font-size="16" dy="7">K</tspan>)</text>
<rect class="lg" x="124" y="2979.7" width="71.2" height="27.3"/>
<path d="M133.8 2992.9H156.1" stroke="#00f" stroke-width="2"/>
<text class="lt" x="170.5" y="2998.4">Tp</text>
</svg>
</body></html>
